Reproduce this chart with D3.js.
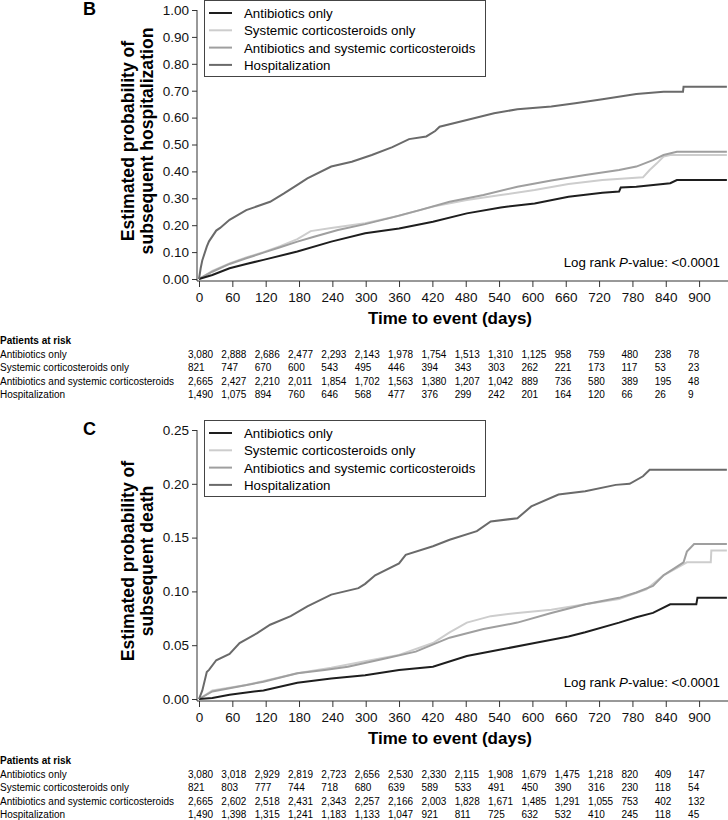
<!DOCTYPE html>
<html>
<head>
	<title> km curves </title>
	<script src="https://d3js.org/d3.v7.min.js"></script>
	<style>
		body { margin: 0; background: white; }
		svg { font-family: "Liberation Sans", Arial, sans-serif; }
	</style>
</head>
<body>
<svg id="chart"></svg>
<script type="text/javascript">

	// groups, in legend / table order
	const groups = ["Antibiotics only", "Systemic corticosteroids only", "Antibiotics and systemic corticosteroids", "Hospitalization"];
	const tickDays = [0, 60, 120, 180, 240, 300, 360, 420, 480, 540, 600, 660, 720, 780, 840, 900];

	// panel B - cumulative probability of subsequent hospitalization, [day, prob]
	const hospB_abx = [[0,0],[24,.015],[55,.04],[85,.056],[116,.071],[177,.102],[238,.139],[299,.17],[360,.188],[421,.213],[482,.244],[543,.266],[604,.281],[665,.306],[726,.321],[756,.325],[759,.34],[787,.343],[848,.356],[860,.368],[950,.368]];
	const hospB_cs = [[0,0],[24,.03],[55,.058],[85,.08],[116,.10],[146,.122],[177,.148],[201,.178],[238,.19],[299,.207],[360,.235],[421,.269],[482,.294],[543,.312],[604,.331],[665,.353],[726,.368],[799,.378],[811,.405],[824,.43],[836,.455],[848,.461],[950,.461]];
	const hospB_both = [[0,0],[24,.027],[55,.056],[85,.077],[116,.098],[146,.118],[177,.139],[207,.157],[250,.182],[299,.204],[348,.229],[397,.256],[451,.287],[512,.312],[573,.343],[634,.366],[695,.387],[756,.405],[787,.418],[817,.442],[836,.461],[860,.473],[950,.473]];
	const hospB_hosp = [[0,0],[3,.04],[6,.07],[14,.12],[18,.14],[31,.18],[38,.19],[55,.22],[85,.256],[128,.287],[153,.318],[177,.35],[195,.374],[238,.418],[275,.436],[311,.461],[348,.49],[378,.52],[409,.53],[425,.55],[433,.566],[482,.591],[531,.616],[573,.631],[634,.641],[677,.653],[726,.668],[787,.688],[836,.696],[871,.696],[872,.715],[950,.715]];

	// panel C - cumulative probability of subsequent death, [day, prob]
	const deathC_abx = [[0,0],[24,.001],[55,.004],[116,.008],[177,.015],[238,.019],[299,.022],[360,.027],[421,.030],[482,.040],[543,.046],[604,.052],[665,.058],[695,.062],[756,.071],[787,.076],[817,.08],[848,.088],[895,.088],[897,.094],[950,.094]];
	const deathC_cs = [[0,0],[24,.008],[85,.013],[177,.024],[238,.029],[299,.035],[360,.041],[421,.052],[451,.062],[482,.071],[525,.077],[573,.08],[634,.083],[695,.088],[756,.093],[805,.102],[836,.115],[878,.127],[921,.127],[922,.138],[950,.138]];
	const deathC_both = [[0,0],[24,.007],[55,.010],[116,.016],[177,.024],[226,.027],[268,.030],[329,.037],[390,.044],[451,.057],[512,.065],[573,.071],[634,.08],[695,.088],[756,.094],[787,.099],[817,.105],[836,.115],[854,.121],[872,.127],[878,.137],[891,.144],[950,.144]];
	const deathC_hosp = [[0,0],[6,.008],[14,.025],[18,.027],[31,.036],[55,.042],[73,.052],[104,.061],[128,.069],[165,.077],[195,.086],[238,.097],[287,.103],[299,.107],[317,.115],[360,.126],[372,.134],[421,.142],[451,.148],[500,.156],[525,.165],[573,.168],[598,.179],[647,.19],[695,.193],[750,.199],[775,.2],[799,.207],[811,.213],[950,.213]];

	// patients at risk
	const riskB_abx = [3080,2888,2686,2477,2293,2143,1978,1754,1513,1310,1125,958,759,480,238,78];
	const riskB_cs = [821,747,670,600,543,495,446,394,343,303,262,221,173,117,53,23];
	const riskB_both = [2665,2427,2210,2011,1854,1702,1563,1380,1207,1042,889,736,580,389,195,48];
	const riskB_hosp = [1490,1075,894,760,646,568,477,376,299,242,201,164,120,66,26,9];

	const riskC_abx = [3080,3018,2929,2819,2723,2656,2530,2330,2115,1908,1679,1475,1218,820,409,147];
	const riskC_cs = [821,803,777,744,718,680,639,589,533,491,450,390,316,230,118,54];
	const riskC_both = [2665,2602,2518,2431,2343,2257,2166,2003,1828,1671,1485,1291,1055,753,402,132];
	const riskC_hosp = [1490,1398,1315,1241,1183,1133,1047,921,811,725,632,532,410,245,118,45];

	const yTicksB = [0, .1, .2, .3, .4, .5, .6, .7, .8, .9, 1];
	const yTicksC = [0, .05, .1, .15, .2, .25];

	const colors = ["#1e1e1e", "#cdcdcd", "#9f9f9f", "#6a6a6a"];

	var w = 728;
	var h = 820;
	const svg = d3.select("#chart").attr("width", w).attr("height", h);

	const x = d3.scaleLinear().domain([0, 952]).range([199, 728]);
	const fmt = d3.format(",");

	function drawPanel(top, letter, yMax, yTicks, title2, series, risk) {
		const y0 = top + 269;   // pixel of value 0
		const y = d3.scaleLinear().domain([0, yMax]).range([y0, top]);
		const g = svg.append("g");

		// panel letter
		g.append("text").attr("x", 83).attr("y", top + 5).style("font-size", "18px").style("font-weight", "bold").text(letter);

		// axes
		const yaxis = d3.axisLeft(y).tickValues(yTicks).tickFormat(d3.format(".2f")).tickSize(5).tickPadding(3).tickSizeOuter(0);
		g.append("g").attr("transform", "translate(197,0)").call(yaxis);
		const xaxis = d3.axisBottom(x).tickValues(tickDays).tickSize(6).tickPadding(5).tickSizeOuter(0);
		g.append("g").attr("transform", "translate(0," + (y0 + 2) + ")").call(xaxis);
		g.selectAll(".domain").remove();
		g.selectAll(".tick line").attr("stroke", "#333");
		g.selectAll(".tick text").style("font-size", "13.5px").attr("fill", "#111");
		g.append("line").attr("x1", 197).attr("x2", 197).attr("y1", top).attr("y2", y0 + 2).attr("stroke", "#333");
		g.append("line").attr("x1", 197).attr("x2", 728).attr("y1", y0 + 2).attr("y2", y0 + 2).attr("stroke", "#333");

		// axis titles
		g.append("text").attr("x", 450).attr("y", y0 + 45).attr("text-anchor", "middle")
			.style("font-size", "17px").style("font-weight", "bold").text("Time to event (days)");
		const yt = g.append("text").attr("transform", "translate(134," + (top + 131) + ") rotate(-90)")
			.attr("text-anchor", "middle").style("font-size", "17.6px").style("font-weight", "bold");
		yt.append("tspan").attr("x", 0).attr("y", 0).text("Estimated probability of");
		yt.append("tspan").attr("x", 0).attr("y", 19).text(title2);

		// curves
		const line = d3.line().x(d => x(d[0])).y(d => y(d[1]));
		const order = [1, 2, 0, 3];
		order.forEach(function(i) {
			g.append("path").datum(series[i]).attr("d", line)
				.attr("fill", "none").attr("stroke", colors[i]).attr("stroke-width", 2).attr("stroke-linejoin", "miter");
		});

		// legend
		g.append("rect").attr("x", 204.5).attr("y", top - 9.5).attr("width", 281).attr("height", 76)
			.attr("fill", "white").attr("stroke", "#444");
		groups.forEach(function(name, i) {
			const ry = top + 3 + i * 17.3;
			g.append("line").attr("x1", 209).attr("x2", 232).attr("y1", ry).attr("y2", ry)
				.attr("stroke", colors[i]).attr("stroke-width", 2);
			g.append("text").attr("x", 244).attr("y", ry + 5).style("font-size", "13.3px").text(name);
		});

		// log rank
		const lr = g.append("text").attr("x", 720).attr("y", y0 - 12).attr("text-anchor", "end").style("font-size", "13.3px");
		lr.append("tspan").text("Log rank ");
		lr.append("tspan").style("font-style", "italic").text("P");
		lr.append("tspan").text("-value: <0.0001");

		// patients at risk table
		const ty = y0 + 65;
		g.append("text").attr("x", 0).attr("y", ty).style("font-size", "10px").style("font-weight", "bold").text("Patients at risk");
		risk.forEach(function(row, i) {
			const ry = ty + 14 + i * 13.3;
			g.append("text").attr("x", 0).attr("y", ry).style("font-size", "10px").text(groups[i]);
			g.selectAll(null).data(row).join("text")
				.attr("x", (d, j) => x(tickDays[j]) - 11).attr("y", ry)
				.style("font-size", "10px").text(d => fmt(d));
		});
	}

	drawPanel(10, "B", 1, yTicksB, "subsequent hospitalization",
		[hospB_abx, hospB_cs, hospB_both, hospB_hosp],
		[riskB_abx, riskB_cs, riskB_both, riskB_hosp]);

	drawPanel(430, "C", 0.25, yTicksC, "subsequent death",
		[deathC_abx, deathC_cs, deathC_both, deathC_hosp],
		[riskC_abx, riskC_cs, riskC_both, riskC_hosp]);

</script>
</body>
</html>
